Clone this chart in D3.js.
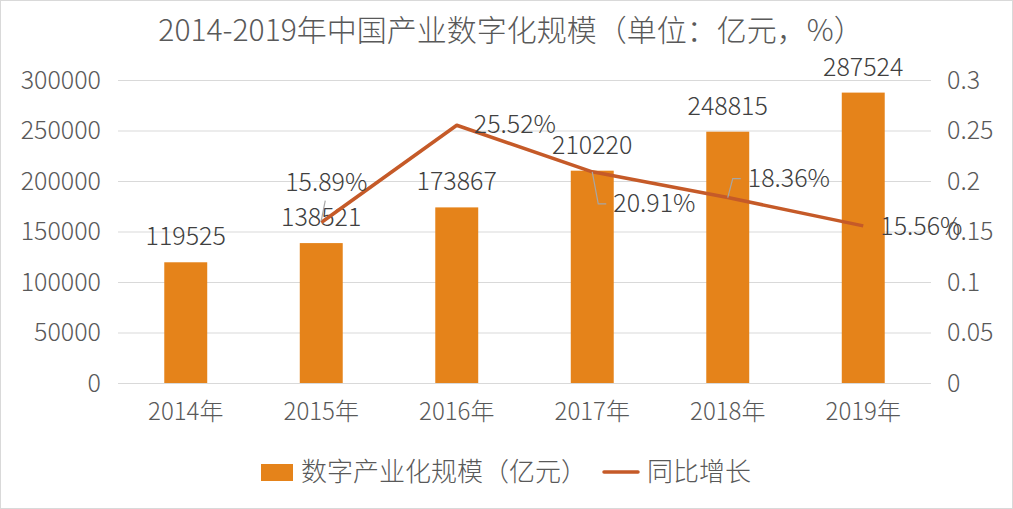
<!DOCTYPE html>
<html><head><meta charset="utf-8">
<script src="https://cdn.jsdelivr.net/npm/d3@7"></script>
<style>
body{margin:0;background:#fff;}
text{font-family:"Noto Sans CJK SC","Noto Sans",sans-serif;font-weight:300;}
</style></head>
<body><svg id="c" width="1013" height="509"></svg>
<script>
const title = "2014-2019年中国产业数字化规模（单位：亿元，%）";
const years = ["2014年","2015年","2016年","2017年","2018年","2019年"];
const scaleValues = [119525,138521,173867,210220,248815,287524];
const growthYears = ["2015年","2016年","2017年","2018年","2019年"];
const growthValues = [0.1589,0.2552,0.2091,0.1836,0.1556];
const growthLabels = ["15.89%","25.52%","20.91%","18.36%","15.56%"];
const leftTicks = [0,50000,100000,150000,200000,250000,300000];
const rightTicks = [0,0.05,0.1,0.15,0.2,0.25,0.3];
const legendNames = ["数字产业化规模（亿元）","同比增长"];

const barColor = "#E5831A", lineColor = "#C55A28", textColor = "#595959";
const svg = d3.select("#c");
svg.append("rect").attr("x",0.5).attr("y",0.5).attr("width",1012).attr("height",508)
  .attr("fill","#fff").attr("stroke","#d9d9d9");

const L = 118, R = 931, T = 80, B = 383;
const x = d3.scaleBand().domain(years).range([L,R]).paddingInner(0.683).paddingOuter(0.3415);
const xc = d => x(d) + x.bandwidth()/2;
const yL = d3.scaleLinear().domain([0,300000]).range([B,T]);
const yR = d3.scaleLinear().domain([0,0.3]).range([B,T]);

svg.append("text").attr("x",511).attr("y",41).attr("text-anchor","middle")
  .attr("font-size",30).attr("fill",textColor).text(title);

// gridlines
svg.append("g").selectAll("line").data(leftTicks).join("line")
  .attr("x1",L).attr("x2",R).attr("y1",d=>yL(d)+0.5).attr("y2",d=>yL(d)+0.5)
  .attr("stroke","#d9d9d9").attr("stroke-width",1);

const ff = '"Noto Sans CJK SC",sans-serif';
// left axis
const gl = svg.append("g").attr("transform",`translate(${L-17},0)`)
  .call(d3.axisLeft(yL).tickValues(leftTicks).tickSize(0).tickPadding(0).tickFormat(d3.format("d")));
gl.select(".domain").remove();
gl.selectAll("text").attr("font-size",25).attr("fill",textColor).attr("font-family",ff).attr("font-weight",300);

// right axis
const gr = svg.append("g").attr("transform",`translate(${R+16},0)`)
  .call(d3.axisRight(yR).tickValues(rightTicks).tickSize(0).tickPadding(0).tickFormat(d3.format("~g")));
gr.select(".domain").remove();
gr.selectAll("text").attr("font-size",25).attr("fill",textColor).attr("font-family",ff).attr("font-weight",300);

// x axis
const gx = svg.append("g").attr("transform",`translate(0,${B})`)
  .call(d3.axisBottom(x).tickSize(0).tickPadding(20));
gx.select(".domain").remove();
gx.selectAll("text").attr("font-size",24).attr("fill",textColor).attr("font-family",ff).attr("font-weight",300);

// bars
svg.append("g").selectAll("rect").data(scaleValues).join("rect")
  .attr("x",(d,i)=>x(years[i])).attr("width",x.bandwidth())
  .attr("y",d=>yL(d)).attr("height",d=>B-yL(d)).attr("fill",barColor);

// bar labels
svg.append("g").selectAll("text").data(scaleValues).join("text")
  .attr("x",(d,i)=>xc(years[i])).attr("y",d=>yL(d)-17).attr("text-anchor","middle")
  .attr("font-size",25).attr("fill","#404040").text(d=>d);

// line
const pts = growthValues.map((v,i)=>[xc(growthYears[i]), yR(v)]);
svg.append("path").attr("d",d3.line()(pts)).attr("fill","none")
  .attr("stroke",lineColor).attr("stroke-width",3.5).attr("stroke-linejoin","round");

// leader lines
const leaders = [
  [[0,-2],[4,-22]],
  null,
  [[0,0],[6,32],[14,32]],
  [[0,0],[5,-19],[13,-19]],
  null
];
leaders.forEach((l,i)=>{
  if(!l) return;
  const p = pts[i];
  svg.append("path").attr("d",d3.line()(l.map(o=>[p[0]+o[0],p[1]+o[1]])))
    .attr("fill","none").attr("stroke","#a6a6a6").attr("stroke-width",1.2);
});
// growth labels (offsets relative to points)
const lblOff = [[5,-32,"middle"],[17,8,"start"],[21,40,"start"],[20,-11,"start"],[17,9,"start"]];
svg.append("g").selectAll("text").data(growthLabels).join("text")
  .attr("x",(d,i)=>pts[i][0]+lblOff[i][0]).attr("y",(d,i)=>pts[i][1]+lblOff[i][1])
  .attr("text-anchor",(d,i)=>lblOff[i][2])
  .attr("font-size",25).attr("fill","#404040").text(d=>d);

// legend
const lg = svg.append("g");
lg.append("rect").attr("x",261).attr("y",464).attr("width",32).attr("height",17).attr("fill",barColor);
lg.append("text").attr("x",301).attr("y",481).attr("font-size",26).attr("fill",textColor).text(legendNames[0]);
lg.append("line").attr("x1",604).attr("x2",638).attr("y1",472).attr("y2",472)
  .attr("stroke",lineColor).attr("stroke-width",3.5).attr("stroke-linecap","round");
lg.append("text").attr("x",647).attr("y",481).attr("font-size",26).attr("fill",textColor).text(legendNames[1]);
</script></body></html>
